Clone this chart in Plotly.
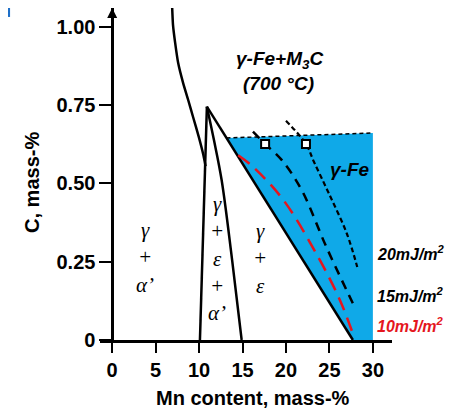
import plotly.graph_objects as go

# ---- data ----
x_ticks = [0, 5, 10, 15, 20, 25, 30]
y_ticks = [0, 0.25, 0.5, 0.75, 1.0]
y_ticktext = ["0", "0.25", "0.50", "0.75", "1.00"]

curve_x = [6.9, 7.0, 7.24, 7.59, 8.16, 8.74, 9.31, 9.95, 10.5, 10.75]
curve_y = [1.064, 1.006, 0.95, 0.885, 0.821, 0.767, 0.712, 0.65, 0.59, 0.555]

left_leg_x = [10.9, 10.1]
left_leg_y = [0.745, 0.0]

right_leg_x = [10.9, 11.7, 12.6, 13.8, 14.9]
right_leg_y = [0.745, 0.64, 0.51, 0.256, 0.0]

gamma_bound_x = [10.9, 27.7]
gamma_bound_y = [0.745, 0.0]

gamma_region_x = [13.15, 30.0, 30.0, 27.7]
gamma_region_y = [0.645, 0.661, 0.0, 0.0]

m3c_line_x = [13.15, 30.0]
m3c_line_y = [0.645, 0.661]

sfe10_x = [14.5, 16.2, 19.7, 23.7, 26.2, 27.7]
sfe10_y = [0.59, 0.553, 0.447, 0.265, 0.128, 0.02]

sfe15_x = [16.2, 17.6, 19.5, 21.8, 24.6, 27.9]
sfe15_y = [0.665, 0.626, 0.575, 0.479, 0.30, 0.105]

sfe20_x = [20.0, 22.3, 23.2, 24.9, 27.0, 28.2]
sfe20_y = [0.70, 0.626, 0.57, 0.47, 0.34, 0.233]

square_x = [17.6, 22.3]
square_y = [0.626, 0.626]

BLUE = "#0FA9E8"
RED = "#E5161D"
SANS = "Liberation Sans, Arial, sans-serif"
SERIF = "Liberation Serif, Times New Roman, serif"

fig = go.Figure()

fig.add_trace(go.Scatter(x=gamma_region_x, y=gamma_region_y, fill="toself",
                         fillcolor=BLUE, mode="lines", line=dict(width=0),
                         hoverinfo="skip"))
fig.add_trace(go.Scatter(x=m3c_line_x, y=m3c_line_y, mode="lines",
                         line=dict(color="black", width=1.5, dash="4px,3px")))
fig.add_trace(go.Scatter(x=curve_x, y=curve_y, mode="lines",
                         line=dict(color="black", width=2.5, shape="spline", smoothing=0.5)))
fig.add_trace(go.Scatter(x=left_leg_x, y=left_leg_y, mode="lines",
                         line=dict(color="black", width=2.5)))
fig.add_trace(go.Scatter(x=right_leg_x, y=right_leg_y, mode="lines",
                         line=dict(color="black", width=2.5, shape="spline")))
fig.add_trace(go.Scatter(x=gamma_bound_x, y=gamma_bound_y, mode="lines",
                         line=dict(color="black", width=2.5)))
fig.add_trace(go.Scatter(x=sfe10_x, y=sfe10_y, mode="lines",
                         line=dict(color=RED, width=2.5, dash="14px,8px", shape="spline")))
fig.add_trace(go.Scatter(x=sfe15_x, y=sfe15_y, mode="lines",
                         line=dict(color="black", width=2.5, dash="9px,7px", shape="spline")))
fig.add_trace(go.Scatter(x=sfe20_x, y=sfe20_y, mode="lines",
                         line=dict(color="black", width=2.2, dash="5px,3px", shape="spline")))
fig.add_trace(go.Scatter(x=square_x, y=square_y, mode="markers",
                         marker=dict(symbol="square", size=8, color="white",
                                     line=dict(color="black", width=2))))

ann = []
# axis arrow
ann.append(dict(x=0, y=1.06, xref="x", yref="y", text="", showarrow=True,
                ax=0, ay=14, arrowhead=2, arrowsize=1, arrowwidth=2,
                arrowcolor="black"))
# axis titles
ann.append(dict(x=-0.233, y=0.476, xref="paper", yref="paper",
                xanchor="center", yanchor="middle",
                text="C, mass-%", textangle=-90, showarrow=False,
                font=dict(family=SANS, size=20, color="black", weight="bold")))
ann.append(dict(x=0.524, y=-0.175, xref="paper", yref="paper",
                xanchor="center", yanchor="middle",
                text="Mn content, mass-%", showarrow=False,
                font=dict(family=SANS, size=20, color="black", weight="bold")))
# region labels
phase_font = dict(family=SERIF, size=21, color="black", style="italic")
ann.append(dict(x=3.8, y=0.262, text="γ<br>+<br>α’", showarrow=False, font=phase_font))
ann.append(dict(x=12.1, y=0.26, text="γ<br>+<br>ε<br>+<br>α’", showarrow=False, font=phase_font))
ann.append(dict(x=17.0, y=0.26, text="γ<br>+<br>ε", showarrow=False, font=phase_font))

bi_font = dict(family=SANS, size=19, color="black", weight="bold", style="italic")
ann.append(dict(x=19.2, y=0.895, text="γ-Fe+M<sub>3</sub>C", showarrow=False, font=bi_font))
ann.append(dict(x=19.1, y=0.82, text="(700 °C)", showarrow=False, font=bi_font))
ann.append(dict(x=27.4, y=0.543, text="γ-Fe", showarrow=False, font=bi_font))

sfe_font = dict(family=SANS, size=16, color="black", weight="bold", style="italic")
ann.append(dict(x=30.2, y=0.278, text="20mJ/m<sup>2</sup>", xanchor="left",
                showarrow=False, font=sfe_font))
ann.append(dict(x=30.2, y=0.144, text="15mJ/m<sup>2</sup>", xanchor="left",
                showarrow=False, font=sfe_font))
ann.append(dict(x=30.2, y=0.048, text="10mJ/m<sup>2</sup>", xanchor="left",
                showarrow=False, font=dict(sfe_font, color=RED)))

fig.update_layout(
    width=458, height=410,
    margin=dict(l=92, r=74, t=0, b=78),
    plot_bgcolor="white", paper_bgcolor="white",
    showlegend=False,
    annotations=ann,
    shapes=[dict(type="rect", xref="paper", yref="paper",
                 x0=-0.3425, x1=-0.308, y0=0.973, y1=1.03,
                 fillcolor="#1E6FC8", line=dict(width=0))],
    xaxis=dict(range=[-1.4, 32.2], tickvals=x_ticks, ticks="outside",
               ticklen=10, tickwidth=2, tickcolor="black",
               showline=True, linewidth=2.5, linecolor="black",
               showgrid=False, zeroline=False,
               tickfont=dict(family=SANS, size=20, color="black", weight="bold")),
    yaxis=dict(range=[0, 1.06], tickvals=y_ticks, ticktext=y_ticktext,
               anchor="free", position=1.4 / 33.6,
               ticks="outside", ticklen=12, tickwidth=2, tickcolor="black",
               showline=True, linewidth=2.5, linecolor="black",
               showgrid=False, zeroline=False,
               tickfont=dict(family=SANS, size=20, color="black", weight="bold")),
)

fig.write_html("out.html")
